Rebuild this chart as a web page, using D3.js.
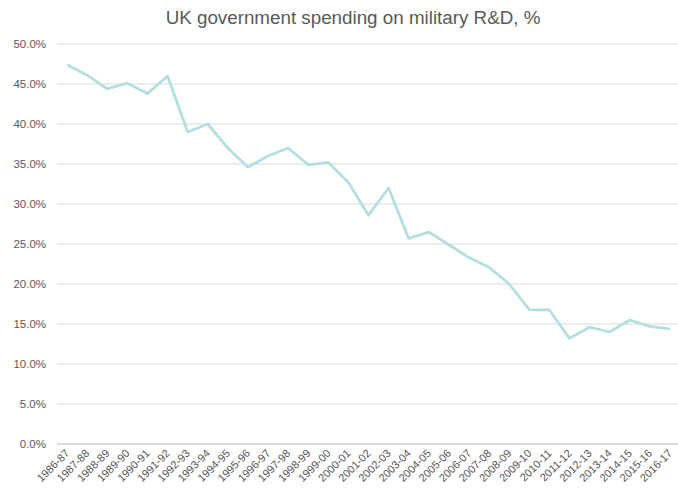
<!DOCTYPE html>
<html><head><meta charset="utf-8">
<script src="https://cdn.jsdelivr.net/npm/d3@7"></script>
<style>body{margin:0;background:#fff;}svg{display:block;font-family:"Liberation Sans",Arial,sans-serif;}</style>
</head><body>
<svg id="c" width="678" height="495"></svg>
<script>
const title = "UK government spending on military R&D, %";
const years = ["1986-87","1987-88","1988-89","1989-90","1990-91","1991-92","1992-93","1993-94","1994-95","1995-96","1996-97","1997-98","1998-99","1999-00","2000-01","2001-02","2002-03","2003-04","2004-05","2005-06","2006-07","2007-08","2008-09","2009-10","2010-11","2011-12","2012-13","2013-14","2014-15","2015-16","2016-17"];
const values = [47.4,46.1,44.4,45.1,43.8,46.0,39.0,40.0,37.0,34.6,36.0,37.0,34.9,35.2,32.7,28.6,32.0,25.7,26.5,24.9,23.3,22.1,20.0,16.8,16.75,13.2,14.6,14.0,15.5,14.7,14.4];
const yTicks = [0,5,10,15,20,25,30,35,40,45,50];

const svg = d3.select("#c");
const m = {left:57, right:680, top:44, bottom:444};
const x = d3.scaleBand().domain(years).range([m.left, m.right]);
const y = d3.scaleLinear().domain([0,50]).range([m.bottom, m.top]);

svg.append("text").attr("x",353).attr("y",24).attr("text-anchor","middle")
  .attr("font-size",18.8).attr("fill","#595959").text(title);

const g = svg.append("g");
g.selectAll("line.grid").data(yTicks).join("line")
  .attr("x1",m.left).attr("x2",678)
  .attr("y1",d=>y(d)).attr("y2",d=>y(d))
  .attr("stroke",d=>d===0?"#d0d0d0":"#d9d9d9").attr("stroke-width",d=>d===0?1.5:1);
g.selectAll("text.yl").data(yTicks).join("text")
  .attr("x",46).attr("y",d=>y(d)+4).attr("text-anchor","end")
  .attr("font-size",11.5).attr("fill","#595959").text(d=>d.toFixed(1)+"%");

g.selectAll("text.xl").data(years).join("text")
  .attr("text-anchor","end").attr("font-size",11).attr("fill","#555555")
  .attr("transform",d=>`translate(${x(d)+x.bandwidth()/2+3},${m.bottom+10}) rotate(-45)`)
  .text(d=>d);

const line = d3.line().x((d,i)=>x(years[i])+x.bandwidth()/2).y(d=>y(d));
svg.append("path").attr("d",line(values)).attr("fill","none")
  .attr("stroke","#b4dfe1").attr("stroke-width",2.8).attr("stroke-linejoin","round");
</script>
</body></html>
